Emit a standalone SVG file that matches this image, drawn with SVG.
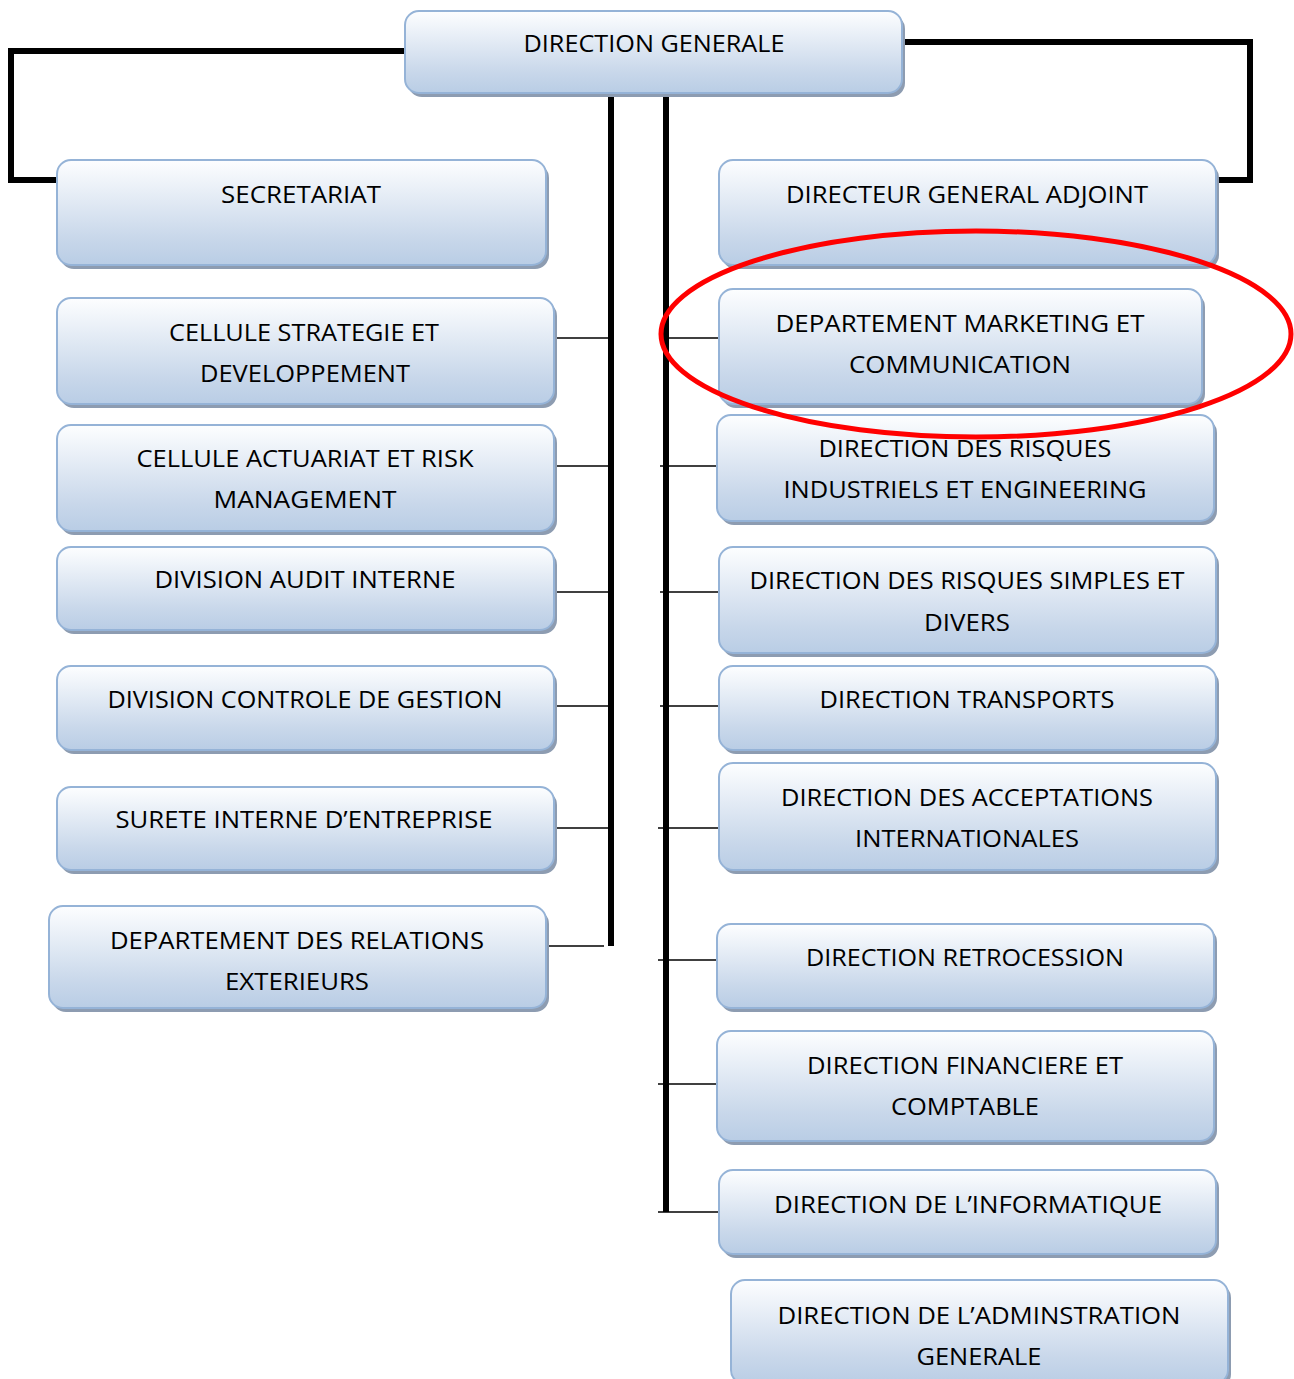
<svg xmlns="http://www.w3.org/2000/svg" xmlns:xlink="http://www.w3.org/1999/xlink" width="1294" height="1379" viewBox="0 0 1294 1379">
<defs>
<linearGradient id="g" x1="0" y1="0" x2="0" y2="1">
<stop offset="0" stop-color="#fdfeff"/>
<stop offset="0.75" stop-color="#c8d7ea"/>
<stop offset="1" stop-color="#b9cde5"/>
</linearGradient>
<style>
.sh{fill:#8d9cb1;}
.bx{fill:url(#g);stroke:#95b3d7;stroke-width:2;}
.t{font-family:"Open Sans","Liberation Sans",sans-serif;font-size:24px;fill:#000;text-anchor:middle;}
.thick{stroke:#000;stroke-width:6;fill:none;stroke-linejoin:miter;}
.thin{stroke:#000;stroke-width:1.6;fill:none;}
</style>
</defs>
<rect width="1294" height="1379" fill="#fff"/>

<g id="connectors">
<polyline class="thick" points="405,51 11,51 11,180 57,180"/>
<polyline class="thick" points="902,42 1250,42 1250,180 1216,180"/>
<line class="thick" x1="611" y1="91" x2="611" y2="946"/>
<line class="thick" x1="666" y1="91" x2="666" y2="1212"/>
<line class="thin" x1="554" y1="338" x2="611" y2="338"/>
<line class="thin" x1="554" y1="466" x2="611" y2="466"/>
<line class="thin" x1="554" y1="592" x2="611" y2="592"/>
<line class="thin" x1="554" y1="706" x2="611" y2="706"/>
<line class="thin" x1="554" y1="828" x2="611" y2="828"/>
<line class="thin" x1="546" y1="946" x2="604" y2="946"/>
<line class="thin" x1="662" y1="338" x2="719" y2="338"/>
<line class="thin" x1="660" y1="466" x2="717" y2="466"/>
<line class="thin" x1="660" y1="592" x2="719" y2="592"/>
<line class="thin" x1="660" y1="706" x2="719" y2="706"/>
<line class="thin" x1="658" y1="828" x2="719" y2="828"/>
<line class="thin" x1="658" y1="960" x2="717" y2="960"/>
<line class="thin" x1="658" y1="1084" x2="717" y2="1084"/>
<line class="thin" x1="658" y1="1212" x2="719" y2="1212"/>
</g>

<g id="n-dg">
<rect class="sh" x="408" y="15" width="497" height="82" rx="14"/>
<rect class="bx" x="405" y="11" width="497" height="82" rx="14"/>
<text class="t" x="654" y="52" textLength="261" lengthAdjust="spacingAndGlyphs">DIRECTION GENERALE</text>
</g>

<g id="n-secretariat">
<rect class="sh" x="60" y="164" width="489" height="105" rx="14"/>
<rect class="bx" x="57" y="160" width="489" height="105" rx="14"/>
<text class="t" x="301" y="203" textLength="160" lengthAdjust="spacingAndGlyphs">SECRETARIAT</text>
</g>

<g id="n-dga">
<rect class="sh" x="722" y="164" width="497" height="105" rx="14"/>
<rect class="bx" x="719" y="160" width="497" height="105" rx="14"/>
<text class="t" x="967" y="203" textLength="362" lengthAdjust="spacingAndGlyphs">DIRECTEUR GENERAL ADJOINT</text>
</g>

<g id="n-strategie">
<rect class="sh" x="60" y="302" width="497" height="106" rx="14"/>
<rect class="bx" x="57" y="298" width="497" height="106" rx="14"/>
<text class="t" x="304" y="341" textLength="270" lengthAdjust="spacingAndGlyphs">CELLULE STRATEGIE ET</text>
<text class="t" x="305" y="382" textLength="210" lengthAdjust="spacingAndGlyphs">DEVELOPPEMENT</text>
</g>

<g id="n-marketing">
<rect class="sh" x="722" y="293" width="483" height="115" rx="14"/>
<rect class="bx" x="719" y="289" width="483" height="115" rx="14"/>
<text class="t" x="960" y="332" textLength="369" lengthAdjust="spacingAndGlyphs">DEPARTEMENT MARKETING ET</text>
<text class="t" x="960" y="373" textLength="222" lengthAdjust="spacingAndGlyphs">COMMUNICATION</text>
</g>

<g id="n-actuariat">
<rect class="sh" x="60" y="429" width="497" height="106" rx="14"/>
<rect class="bx" x="57" y="425" width="497" height="106" rx="14"/>
<text class="t" x="305" y="467" textLength="337" lengthAdjust="spacingAndGlyphs">CELLULE ACTUARIAT ET RISK</text>
<text class="t" x="305" y="508" textLength="183" lengthAdjust="spacingAndGlyphs">MANAGEMENT</text>
</g>

<g id="n-risques-ind">
<rect class="sh" x="720" y="419" width="497" height="106" rx="14"/>
<rect class="bx" x="717" y="415" width="497" height="106" rx="14"/>
<text class="t" x="965" y="457" textLength="293" lengthAdjust="spacingAndGlyphs">DIRECTION DES RISQUES</text>
<text class="t" x="965" y="498" textLength="363" lengthAdjust="spacingAndGlyphs">INDUSTRIELS ET ENGINEERING</text>
</g>

<g id="n-audit">
<rect class="sh" x="60" y="551" width="497" height="83" rx="14"/>
<rect class="bx" x="57" y="547" width="497" height="83" rx="14"/>
<text class="t" x="305" y="588" textLength="301" lengthAdjust="spacingAndGlyphs">DIVISION AUDIT INTERNE</text>
</g>

<g id="n-risques-simples">
<rect class="sh" x="722" y="551" width="497" height="106" rx="14"/>
<rect class="bx" x="719" y="547" width="497" height="106" rx="14"/>
<text class="t" x="967" y="589" textLength="435" lengthAdjust="spacingAndGlyphs">DIRECTION DES RISQUES SIMPLES ET</text>
<text class="t" x="967" y="631" textLength="86" lengthAdjust="spacingAndGlyphs">DIVERS</text>
</g>

<g id="n-controle">
<rect class="sh" x="60" y="670" width="497" height="84" rx="14"/>
<rect class="bx" x="57" y="666" width="497" height="84" rx="14"/>
<text class="t" x="305" y="708" textLength="395" lengthAdjust="spacingAndGlyphs">DIVISION CONTROLE DE GESTION</text>
</g>

<g id="n-transports">
<rect class="sh" x="722" y="670" width="497" height="84" rx="14"/>
<rect class="bx" x="719" y="666" width="497" height="84" rx="14"/>
<text class="t" x="967" y="708" textLength="295" lengthAdjust="spacingAndGlyphs">DIRECTION TRANSPORTS</text>
</g>

<g id="n-surete">
<rect class="sh" x="60" y="791" width="497" height="83" rx="14"/>
<rect class="bx" x="57" y="787" width="497" height="83" rx="14"/>
<text class="t" x="304" y="828" textLength="377" lengthAdjust="spacingAndGlyphs">SURETE INTERNE D’ENTREPRISE</text>
</g>

<g id="n-acceptations">
<rect class="sh" x="722" y="767" width="497" height="107" rx="14"/>
<rect class="bx" x="719" y="763" width="497" height="107" rx="14"/>
<text class="t" x="967" y="806" textLength="372" lengthAdjust="spacingAndGlyphs">DIRECTION DES ACCEPTATIONS</text>
<text class="t" x="967" y="847" textLength="224" lengthAdjust="spacingAndGlyphs">INTERNATIONALES</text>
</g>

<g id="n-relations">
<rect class="sh" x="52" y="910" width="497" height="102" rx="14"/>
<rect class="bx" x="49" y="906" width="497" height="102" rx="14"/>
<text class="t" x="297" y="949" textLength="374" lengthAdjust="spacingAndGlyphs">DEPARTEMENT DES RELATIONS</text>
<text class="t" x="297" y="990" textLength="144" lengthAdjust="spacingAndGlyphs">EXTERIEURS</text>
</g>

<g id="n-retrocession">
<rect class="sh" x="720" y="928" width="497" height="84" rx="14"/>
<rect class="bx" x="717" y="924" width="497" height="84" rx="14"/>
<text class="t" x="965" y="966" textLength="318" lengthAdjust="spacingAndGlyphs">DIRECTION RETROCESSION</text>
</g>

<g id="n-financiere">
<rect class="sh" x="720" y="1035" width="497" height="110" rx="14"/>
<rect class="bx" x="717" y="1031" width="497" height="110" rx="14"/>
<text class="t" x="965" y="1074" textLength="316" lengthAdjust="spacingAndGlyphs">DIRECTION FINANCIERE ET</text>
<text class="t" x="965" y="1115" textLength="148" lengthAdjust="spacingAndGlyphs">COMPTABLE</text>
</g>

<g id="n-informatique">
<rect class="sh" x="722" y="1174" width="497" height="84" rx="14"/>
<rect class="bx" x="719" y="1170" width="497" height="84" rx="14"/>
<text class="t" x="968" y="1213" textLength="388" lengthAdjust="spacingAndGlyphs">DIRECTION DE L’INFORMATIQUE</text>
</g>

<g id="n-administration">
<rect class="sh" x="734" y="1284" width="497" height="104" rx="14"/>
<rect class="bx" x="731" y="1280" width="497" height="104" rx="14"/>
<text class="t" x="979" y="1324" textLength="403" lengthAdjust="spacingAndGlyphs">DIRECTION DE L’ADMINSTRATION</text>
<text class="t" x="979" y="1365" textLength="125" lengthAdjust="spacingAndGlyphs">GENERALE</text>
</g>

<g id="highlight">
<ellipse cx="976" cy="334" rx="315" ry="103" fill="none" stroke="#ff0000" stroke-width="5"/>
</g>
</svg>
